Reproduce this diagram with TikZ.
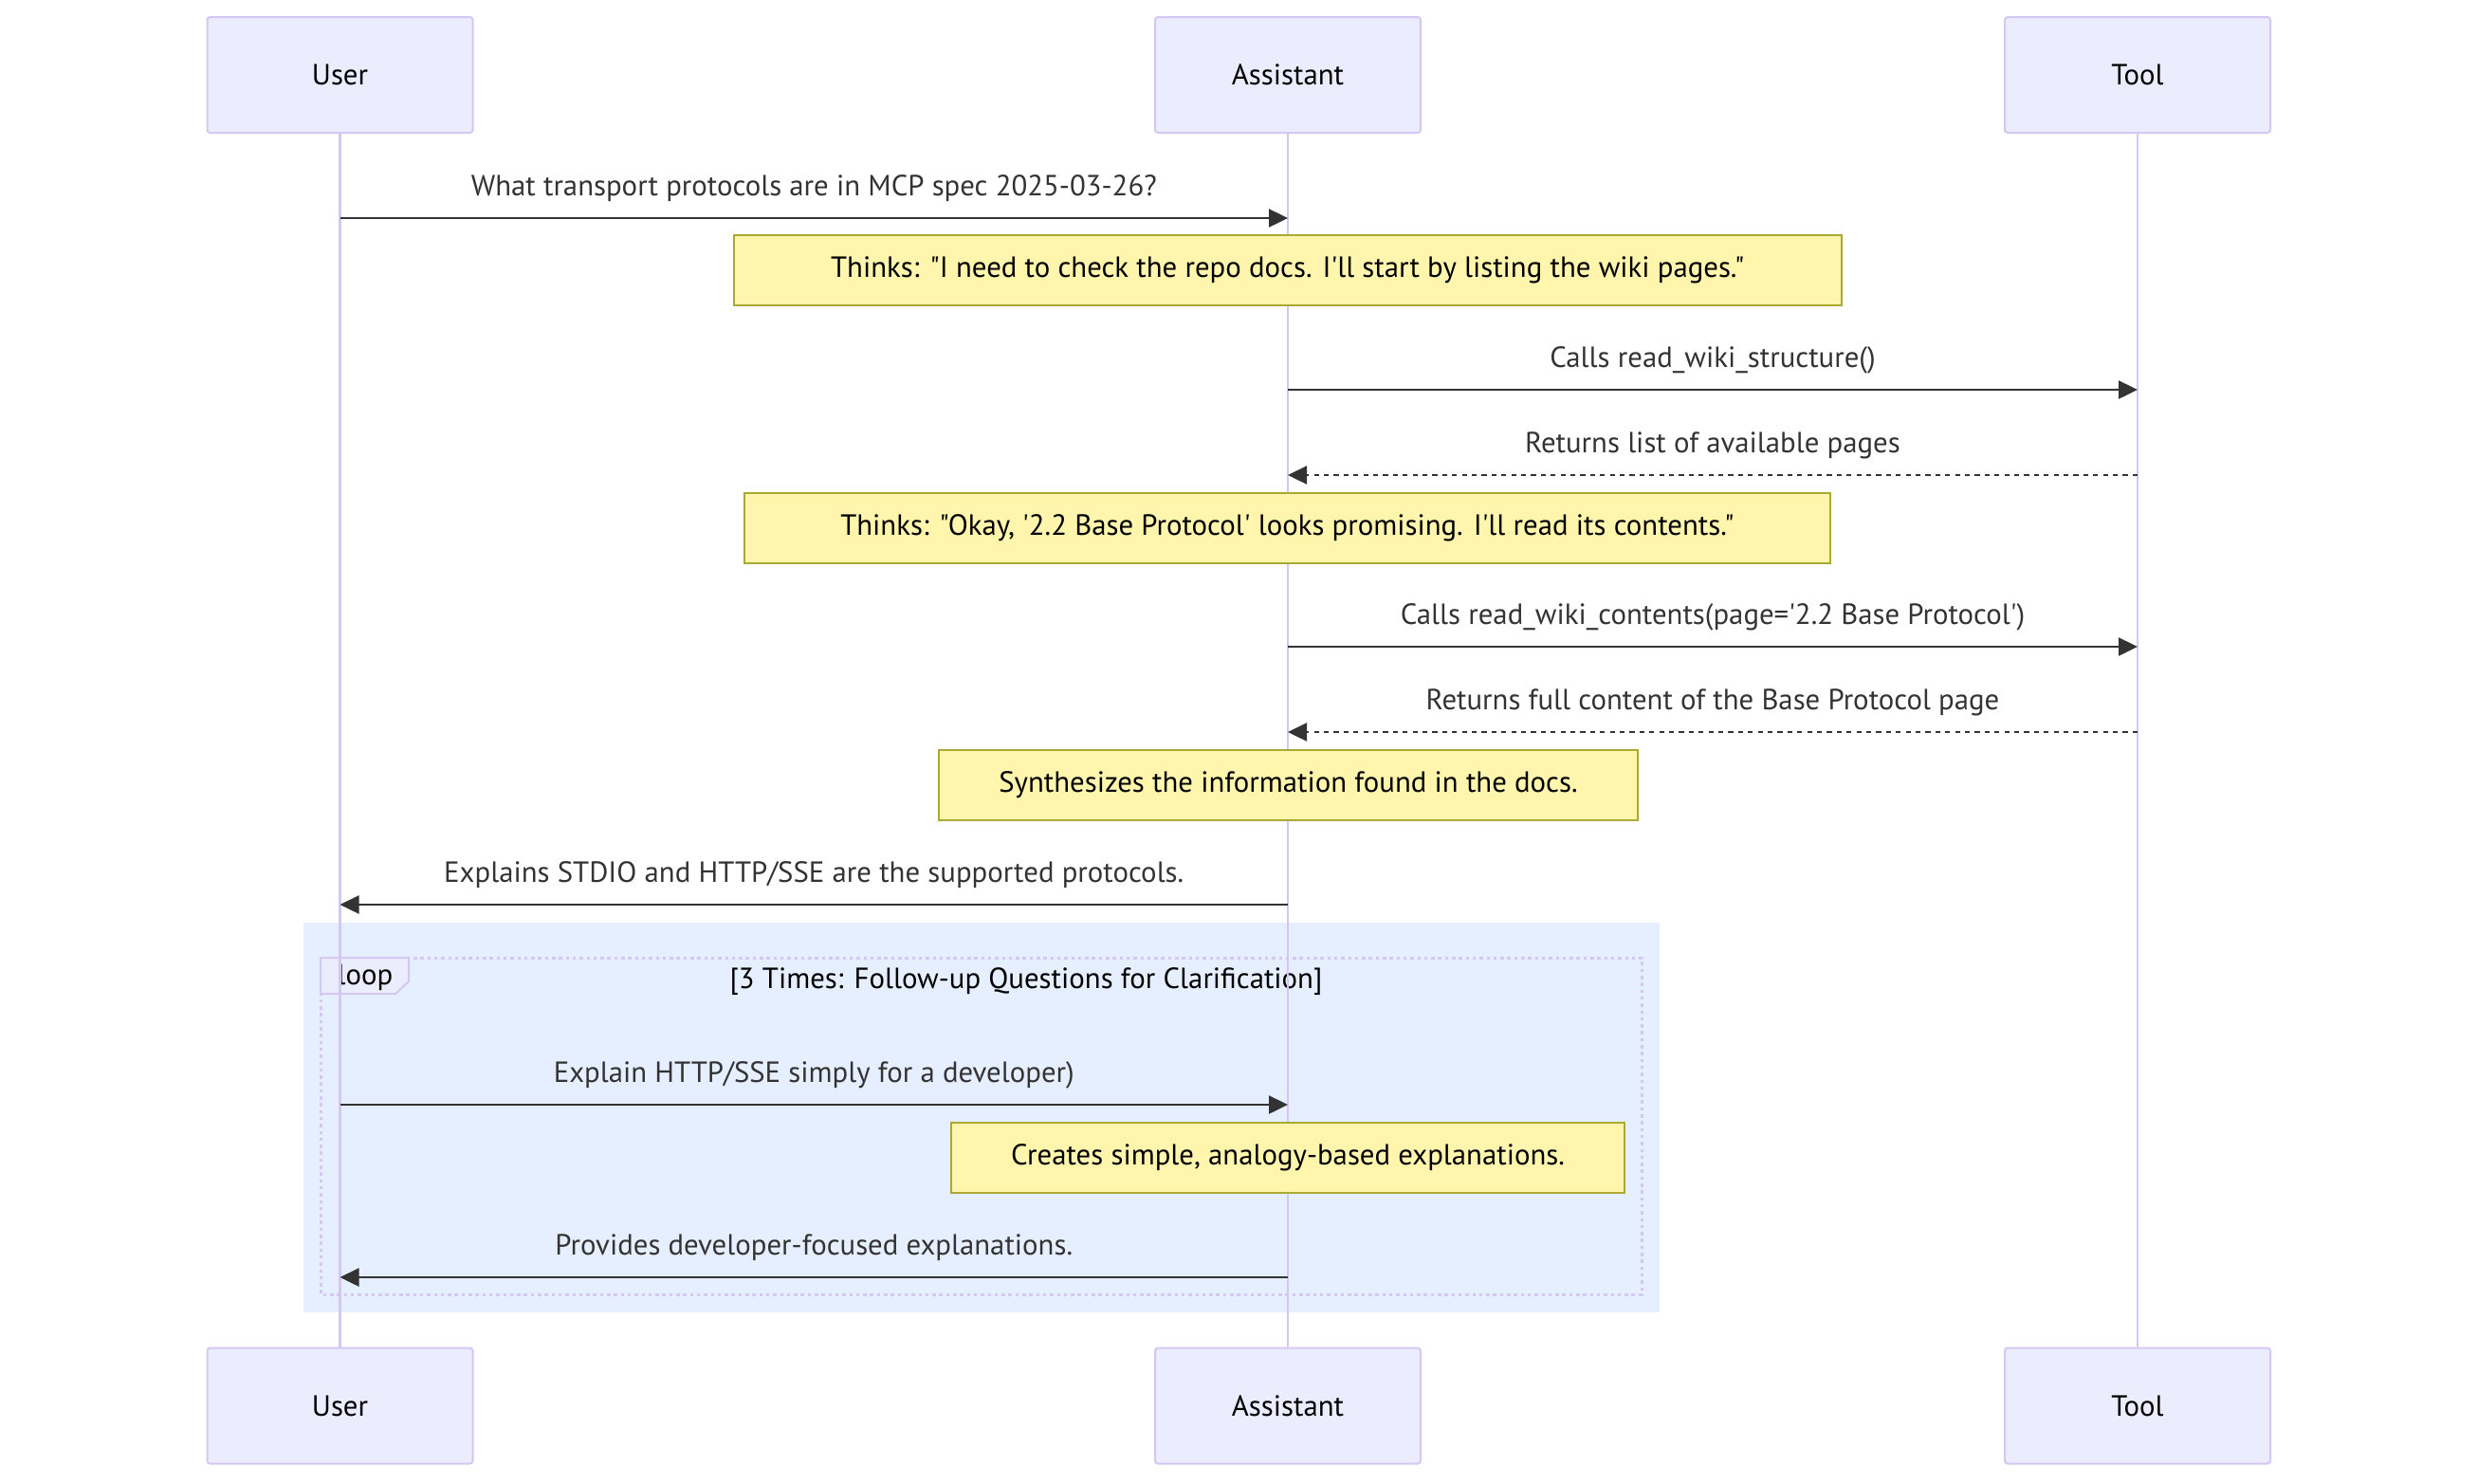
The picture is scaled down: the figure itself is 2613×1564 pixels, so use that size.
\documentclass[tikz,border=0pt]{standalone}
\usepackage{fontspec}
\setmainfont[Ligatures=TeXOff]{PT Sans}
\usetikzlibrary{arrows.meta, backgrounds}

\definecolor{actorfill}{HTML}{ECECFF}
\definecolor{actorline}{HTML}{D4C8F2}
\definecolor{notefill}{HTML}{FFF5AD}
\definecolor{noteline}{HTML}{AAAA33}
\definecolor{msgline}{HTML}{333333}
\definecolor{loopfill}{HTML}{E6EFFF}

\newcommand{\diagfont}{\fontsize{15.4}{18}\selectfont}
\tikzstyle{actor} = [rectangle, rounded corners=1.5pt, minimum width=140pt, minimum height=61pt, text centered, draw=actorline, line width=1pt, fill=actorfill, font=\diagfont]
\tikzstyle{note} = [rectangle, minimum height=37pt, text centered, draw=noteline, line width=1pt, fill=notefill, font=\diagfont]
\tikzstyle{lifeline} = [actorline, line width=1.4pt]
\tikzstyle{msg} = [msgline, line width=1.2pt, -{Triangle[length=10pt,width=9.5pt]}]
\tikzstyle{reply} = [msg, dash pattern=on 2.6pt off 2.6pt]
\tikzstyle{lbl} = [anchor=base, yshift=12pt, inner sep=0pt, text=msgline, font=\diagfont]

\begin{document}
\begin{tikzpicture}[x=0.5pt, y=-0.5pt]
	\useasboundingbox (0,0) rectangle (2613,1564);
	% Place nodes
	\node [actor] (User) at (358.5,79) {User};
	\node [actor] (Assistant) at (1358,79) {Assistant};
	\node [actor] (Tool) at (2254,79) {Tool};
	\node [actor] (UserEnd) at (358.5,1482.5) {User};
	\node [actor] (AssistantEnd) at (1358,1482.5) {Assistant};
	\node [actor] (ToolEnd) at (2254,1482.5) {Tool};
	% Loop and lifelines behind
	\begin{scope}[on background layer]
		\fill [loopfill] (320,973) rectangle (1750,1384);
		\draw [actorline, line width=1.5pt, dash pattern=on 1.75pt off 1.9pt] (338,1010) rectangle (1731,1365);
		\draw [actorline, line width=1pt, fill=actorfill] (338,1010) -- (431,1010) -- (431,1035) -- (417,1048) -- (338,1048) -- cycle;
		\node [font=\diagfont] (LoopTag) at (385,1031) {loop};
		\node [font=\diagfont] (LoopCond) at (1082,1035) {[3 Times: Follow-up Questions for Clarification]};
		\draw [lifeline] (User) -- (UserEnd);
		\draw [lifeline] (Assistant) -- (AssistantEnd);
		\draw [lifeline] (Tool) -- (ToolEnd);
	\end{scope}
	% Notes
	\node [note, minimum width=584pt] (ThinkDocs) at (1357.75,285) {Thinks: "I need to check the repo docs. I'll start by listing the wiki pages."};
	\node [note, minimum width=572.5pt] (ThinkBase) at (1357.5,556.5) {Thinks: "Okay, '2.2 Base Protocol' looks promising. I'll read its contents."};
	\node [note, minimum width=368.5pt] (Synthesize) at (1358.5,827.5) {Synthesizes the information found in the docs.};
	\node [note, minimum width=354.75pt] (Analogy) at (1358,1220.5) {Creates simple, analogy-based explanations.};
	% Message ends
	\coordinate (UserAsk) at (358.5,230);
	\coordinate (AssistantAsk) at (1358,230);
	\coordinate (AssistantCall1) at (1358,411);
	\coordinate (ToolCall1) at (2254,411);
	\coordinate (ToolRet1) at (2254,501);
	\coordinate (AssistantRet1) at (1358,501);
	\coordinate (AssistantCall2) at (1358,682);
	\coordinate (ToolCall2) at (2254,682);
	\coordinate (ToolRet2) at (2254,772);
	\coordinate (AssistantRet2) at (1358,772);
	\coordinate (AssistantAnswer) at (1358,954);
	\coordinate (UserAnswer) at (358.5,954);
	\coordinate (UserFollow) at (358.5,1165);
	\coordinate (AssistantFollow) at (1358,1165);
	\coordinate (AssistantReply) at (1358,1347);
	\coordinate (UserReply) at (358.5,1347);
	% Draw edges
	\draw [msg] (UserAsk) -- node [lbl] {What transport protocols are in MCP spec 2025-03-26?} (AssistantAsk);
	\draw [msg] (AssistantCall1) -- node [lbl] {Calls read\_wiki\_structure()} (ToolCall1);
	\draw [reply] (ToolRet1) -- node [lbl] {Returns list of available pages} (AssistantRet1);
	\draw [msg] (AssistantCall2) -- node [lbl] {Calls read\_wiki\_contents(page='2.2 Base Protocol')} (ToolCall2);
	\draw [reply] (ToolRet2) -- node [lbl] {Returns full content of the Base Protocol page} (AssistantRet2);
	\draw [msg] (AssistantAnswer) -- node [lbl] {Explains STDIO and HTTP/SSE are the supported protocols.} (UserAnswer);
	\draw [msg] (UserFollow) -- node [lbl] {Explain HTTP/SSE simply for a developer)} (AssistantFollow);
	\draw [msg] (AssistantReply) -- node [lbl] {Provides developer-focused explanations.} (UserReply);
\end{tikzpicture}
\end{document}
